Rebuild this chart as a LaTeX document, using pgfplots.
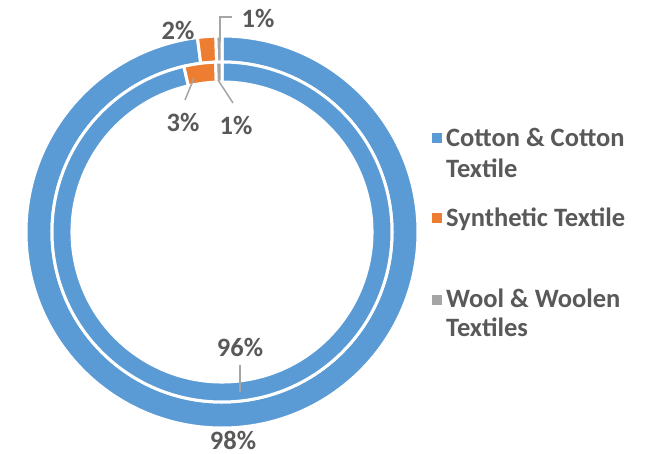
\documentclass[border=0pt]{standalone}
\usepackage{pgfplots}
\pgfplotsset{compat=1.18}
\usepackage{pgfplotstable}
\usepackage{fontspec}
\setmainfont{Carlito}

\definecolor{cotton}{HTML}{5B9BD5}
\definecolor{synth}{HTML}{ED7D31}
\definecolor{wool}{HTML}{A5A5A5}
\definecolor{txt}{HTML}{595959}

% shares in percent: outer ring and inner ring
\pgfplotstableread{
name   out   in
cotton 98.0  96.4
synth  1.5   3.0
wool   0.5   0.6
}\shares

\newcommand\lbl{\fontsize{26.5bp}{31bp}\selectfont\bfseries}

% #1 column, #2 outer radius, #3 inner radius
\newcommand\ring[3]{%
  \gdef\cum{0}%
  \foreach \i/\c in {0/cotton,1/synth,2/wool}{%
    \pgfplotstablegetelem{\i}{#1}\of\shares
    \pgfmathsetmacro\nc{\cum+\pgfplotsretval}%
    \pgfmathsetmacro\sa{90-3.6*\cum}%
    \pgfmathsetmacro\ea{90-3.6*\nc}%
    \xdef\cum{\nc}%
    \filldraw[fill=\c, draw=white, line width=3bp]
      ([shift={(\sa:#2)}]axis cs:222,222) arc[start angle=\sa, end angle=\ea, radius=#2]
      -- ([shift={(\ea:#3)}]axis cs:222,222) arc[start angle=\ea, end angle=\sa, radius=#3]
      -- cycle;
  }%
}

\begin{document}
\begin{tikzpicture}
\begin{axis}[
  width=657bp, height=454bp, scale only axis,
  xmin=0, xmax=657, ymin=0, ymax=454,
  hide axis, clip=false
  ]
  \path (axis cs:0,0) rectangle (axis cs:657,454);
  \pgfplotsextra{
    \ring{out}{196bp}{170bp}
    \ring{in}{170bp}{150bp}
  }

  % leader lines
  \draw[wool, line width=1.5bp] (axis cs:220,412) -- (axis cs:220,437) -- (axis cs:232,437);
  \draw[wool, line width=1.5bp] (axis cs:194,376) -- (axis cs:185,354);
  \draw[wool, line width=1.5bp] (axis cs:218,374) -- (axis cs:233,351);
  \draw[wool, line width=1.5bp] (axis cs:240,89) -- (axis cs:240,62);

  % data labels
  \begin{scope}[every node/.style={text=txt, font=\lbl, inner sep=0pt}]
    \node at (axis cs:178,424) {2\%};
    \node at (axis cs:258,436) {1\%};
    \node at (axis cs:183,332) {3\%};
    \node at (axis cs:236,329) {1\%};
    \node at (axis cs:240,107) {96\%};
    \node at (axis cs:233,14) {98\%};
  \end{scope}

  % legend
  \fill[cotton] (axis cs:432,311) rectangle (axis cs:442,321);
  \fill[synth]  (axis cs:432,231) rectangle (axis cs:442,241);
  \fill[wool]   (axis cs:432,149) rectangle (axis cs:442,159);
  \begin{scope}[every node/.style={text=txt, font=\lbl, inner sep=0pt, anchor=base west}]
    \node at (axis cs:446,307) {Cotton \& Cotton};
    \node at (axis cs:446,276) {Textile};
    \node at (axis cs:446,227) {Synthetic Textile};
    \node at (axis cs:446,146) {Wool \& Woolen};
    \node at (axis cs:446,117) {Textiles};
  \end{scope}
\end{axis}
\end{tikzpicture}
\end{document}
